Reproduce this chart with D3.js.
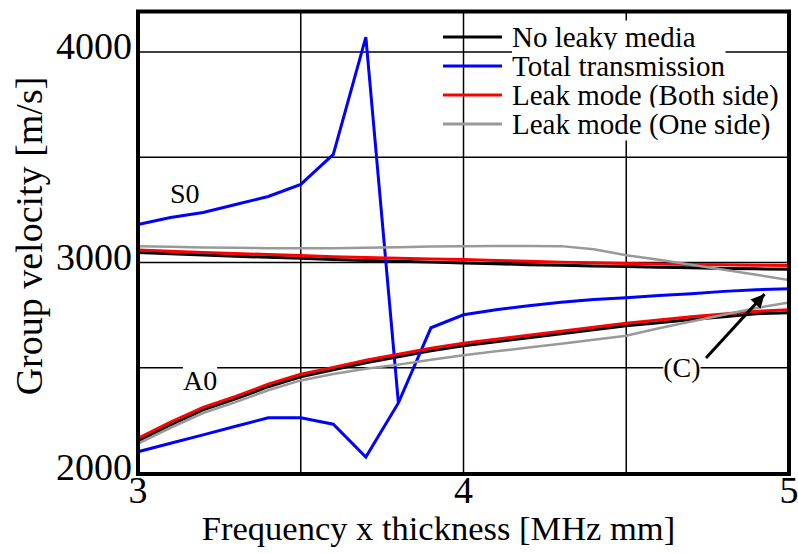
<!DOCTYPE html>
<html>
<head>
<meta charset="utf-8">
<script src="https://cdn.jsdelivr.net/npm/d3@7"></script>
<style>
  html, body { margin: 0; padding: 0; background: #fff; }
  svg { display: block; font-family: "Liberation Serif", "Times New Roman", serif; }
</style>
</head>
<body>
<svg id="chart" width="798" height="553"></svg>
<script>
// ---- data ----
const freq = [3.0,3.1,3.2,3.3,3.4,3.5,3.6,3.7,3.8,3.9,4.0,4.1,4.2,4.3,4.4,4.5,4.6,4.7,4.8,4.9,5.0];
const noLeakS0 = [3048,3042,3036,3030,3025,3020,3015,3010,3006,3002,2998,2994,2990,2987,2984,2981,2978,2975,2972,2970,2968];
const noLeakA0 = [2152,2229,2300,2352,2410,2457,2490,2524,2552,2581,2605,2624,2643,2662,2681,2700,2714,2729,2743,2757,2762];
const bothS0   = [3060,3054,3048,3043,3038,3033,3028,3024,3020,3017,3014,3010,3006,3002,2999,2996,2993,2991,2989,2987,2986];
const bothA0   = [2165,2242,2312,2364,2422,2469,2502,2536,2564,2593,2617,2636,2655,2674,2693,2712,2727,2742,2756,2768,2776];
const oneS0    = [3078,3075,3072,3070,3068,3068,3068,3070,3073,3076,3078,3079,3079,3078,3063,3035,3013,2990,2966,2942,2917];
const oneA0    = [2140,2215,2285,2337,2393,2440,2470,2495,2515,2538,2560,2578,2596,2614,2633,2652,2688,2720,2752,2784,2810];
const totalS0  = [3181,3214,3238,3276,3314,3371,3514,4071,2333];          // 3.0 .. 3.8
const totalA0  = [2101,2141,2181,2222,2262,2262,2232,2076,2333,2690,2752,2776,2795,2811,2824,2833,2843,2852,2863,2871,2876];

const legendNames  = ["No leaky media","Total transmission","Leak mode (Both side)","Leak mode (One side)"];
const legendColors = ["#000000","#0000ff","#ff0000","#999999"];

const xTicks = [3,4,5];
const yTicks = [2000,3000,4000];
const xGrid = [3.5,4,4.5];
const yGrid = [2500,3000,3500,4000];

const xTitle = "Frequency x thickness [MHz mm]";
const yTitle = "Group velocity [m/s]";

// annotations (data coords)
const modeLabels = [{t:"S0", f:3.098, v:3283}, {t:"A0", f:3.138, v:2394}];
const cLabel = {t:"(C)", f:4.671, v:2455};
const cArrow = {f0:4.745, v0:2546, f1:4.925, v1:2850};

// ---- drawing ----
const svg = d3.select("#chart");
const x = d3.scaleLinear().domain([3,5]).range([138,789]);
const y = d3.scaleLinear().domain([2000,4200]).range([473,10]);
const frameTop = 11.5, frameBottom = 474;

// grid
svg.append("g").selectAll("line").data(xGrid).join("line")
  .attr("x1", d=>x(d)).attr("x2", d=>x(d)).attr("y1", frameTop).attr("y2", frameBottom)
  .attr("stroke","#000").attr("stroke-width",1.5);
svg.append("g").selectAll("line").data(yGrid).join("line")
  .attr("x1", x.range()[0]).attr("x2", x.range()[1]).attr("y1", d=>y(d)).attr("y2", d=>y(d))
  .attr("stroke","#000").attr("stroke-width",1.5);

// lines
const line = d3.line().x(d=>x(d[0])).y(d=>y(d[1]));
const zipF = vals => vals.map((v,i)=>[freq[i], v]);
const series = [
  {vals: noLeakS0, color: legendColors[0], w: 3},
  {vals: noLeakA0, color: legendColors[0], w: 3},
  {vals: totalS0,  color: legendColors[1], w: 3},
  {vals: totalA0,  color: legendColors[1], w: 3},
  {vals: bothS0,   color: legendColors[2], w: 3},
  {vals: bothA0,   color: legendColors[2], w: 3},
  {vals: oneS0,    color: legendColors[3], w: 2.5},
  {vals: oneA0,    color: legendColors[3], w: 2.5}
];
svg.append("g").selectAll("path").data(series).join("path")
  .attr("d", d=>line(zipF(d.vals)))
  .attr("fill","none").attr("stroke", d=>d.color).attr("stroke-width", d=>d.w)
  .attr("stroke-linejoin","miter");

// frame
svg.append("rect")
  .attr("x", x.range()[0]).attr("y", frameTop)
  .attr("width", x.range()[1]-x.range()[0]).attr("height", frameBottom-frameTop)
  .attr("fill","none").attr("stroke","#000").attr("stroke-width",4);

// text with white background helper
function bgText(g, txt, px, py, size, anchor) {
  const t = g.append("text").attr("x",px).attr("y",py).style("font-size",size+"px")
    .attr("text-anchor", anchor||"start").attr("fill","#000").text(txt);
  const b = t.node().getBBox();
  g.insert("rect","text").attr("x",b.x).attr("y",b.y).attr("width",b.width).attr("height",b.height).attr("fill","#fff");
  return t;
}

// legend
const lg = svg.append("g");
const legendX0 = 443, legendX1 = 502, legendTextX = 512, legendBase0 = 46.5, legendStep = 29;
legendNames.forEach((n,i)=>{
  const by = legendBase0 + i*legendStep;
  const gi = lg.append("g");
  bgText(gi, n, legendTextX, by, 29, "start");
  gi.append("line").attr("x1",legendX0).attr("x2",legendX1).attr("y1",by-9.5).attr("y2",by-9.5)
    .attr("stroke",legendColors[i]).attr("stroke-width",3);
});

// mode labels
modeLabels.forEach(m=>{ bgText(svg.append("g"), m.t, x(m.f), y(m.v), 28, "start"); });
bgText(svg.append("g"), cLabel.t, x(cLabel.f), y(cLabel.v), 28, "middle");

// arrow
svg.append("defs").append("marker").attr("id","ah").attr("viewBox","0 0 10 10")
  .attr("refX",10).attr("refY",5).attr("markerWidth",6.5).attr("markerHeight",4.5)
  .attr("orient","auto").attr("markerUnits","strokeWidth")
  .append("path").attr("d","M0,0 L10,5 L0,10 z").attr("fill","#000");
svg.append("line")
  .attr("x1",x(cArrow.f0)).attr("y1",y(cArrow.v0)).attr("x2",x(cArrow.f1)).attr("y2",y(cArrow.v1))
  .attr("stroke","#000").attr("stroke-width",3).attr("marker-end","url(#ah)");

// tick labels
const yLab = svg.append("g").selectAll("text").data(yTicks).join("text")
  .attr("x", x.range()[0]-6).attr("y", d=>y(d)+7)
  .attr("text-anchor","end")
  .style("font-family","'Liberation Serif', serif").style("font-size","38px")
  .attr("fill","#000").text(d=>d3.format("d")(d));
// keep label widths like the reference's wide digits
yLab.each(function(){
  const len = this.getComputedTextLength();
  if (len < 74) d3.select(this).attr("textLength",76).attr("lengthAdjust","spacingAndGlyphs");
});

svg.append("g").selectAll("text").data(xTicks).join("text")
  .attr("x", d=>x(d)).attr("y", 503)
  .attr("text-anchor","middle")
  .style("font-family","'Liberation Serif', serif").style("font-size","38px")
  .attr("fill","#000").text(d=>d3.format("d")(d));

svg.append("text").attr("x",(x.range()[0]+x.range()[1])/2 - 25).attr("y",540)
  .attr("text-anchor","middle").style("font-size","34.5px").text(xTitle);
svg.append("text").attr("transform","translate(42,236) rotate(-90)")
  .attr("text-anchor","middle").style("font-size","38px").text(yTitle);
</script>
</body>
</html>
